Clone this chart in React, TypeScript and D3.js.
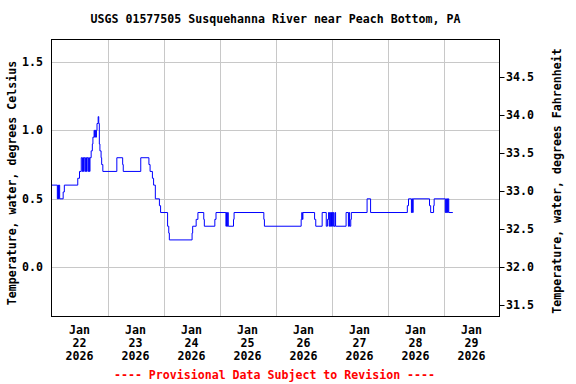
import React from "react";
import * as d3 from "d3";

const TITLE = "USGS 01577505 Susquehanna River near Peach Bottom, PA";
const LEFT_LABEL = "Temperature, water, degrees Celsius";
const RIGHT_LABEL = "Temperature, water, degrees Fahrenheit";
const FOOTER = "---- Provisional Data Subject to Revision ----";

// hours since 2026-01-22 00:00 at which value changes
const stepHours = [
  0, 2.5, 2.75, 3, 3.25, 3.5, 5, 5.5, 11.25, 12, 12.75, 13.25, 13.5, 13.75, 14, 14.5, 14.75, 15, 15.25,
  15.75, 16, 16.25, 16.5, 17, 17.5, 17.75, 18.25, 18.5, 18.75, 19, 19.25, 19.5, 20, 20.25, 20.5, 20.75,
  21.25, 21.5, 22, 28, 30.5, 30.75, 38.25, 41.75, 42.25, 43.25, 43.75, 44.5, 46.25, 46.75, 49.75, 50.25,
  50.5, 60.25, 60.5, 62, 62.75, 65.25, 65.5, 70, 70.5, 74.75, 75, 75.25, 75.5, 75.75, 78, 78.25, 91,
  91.25, 107, 107.25, 107.5, 107.75, 112.75, 113.25, 116, 117.75, 118.25, 118.75, 119, 119.25, 119.5,
  119.75, 120, 120.25, 120.5, 120.75, 121, 121.5, 121.75, 126.25, 127.25, 127.5, 127.75, 128.25, 128.5,
  135.25, 136.75, 152.5, 153, 154.25, 154.5, 154.75, 155, 162, 162.5, 163.75, 164, 168.75, 169, 169.25,
  169.5, 169.75, 170, 170.25, 172,
];
const stepValues = [
  0.6, 0.5, 0.6, 0.5, 0.6, 0.5, 0.55, 0.6, 0.65, 0.7, 0.8, 0.7, 0.8, 0.7, 0.8, 0.7, 0.8, 0.7, 0.8,
  0.7, 0.8, 0.7, 0.8, 0.85, 0.9, 0.95, 1.0, 0.95, 1.0, 0.95, 1.0, 1.05, 1.1, 1.05, 0.9, 0.85,
  0.8, 0.75, 0.7, 0.8, 0.75, 0.7, 0.8, 0.75, 0.7, 0.65, 0.6, 0.5, 0.45, 0.4, 0.3, 0.25,
  0.2, 0.25, 0.3, 0.35, 0.4, 0.35, 0.3, 0.35, 0.4, 0.3, 0.4, 0.3, 0.4, 0.3, 0.35, 0.4, 0.35,
  0.3, 0.35, 0.4, 0.35, 0.4, 0.35, 0.3, 0.4, 0.3, 0.35, 0.4, 0.3, 0.4, 0.3,
  0.4, 0.3, 0.4, 0.3, 0.4, 0.3, 0.4, 0.3, 0.4, 0.3, 0.4, 0.3, 0.35, 0.4,
  0.5, 0.4, 0.45, 0.5, 0.4, 0.5, 0.4, 0.5, 0.45, 0.4, 0.45, 0.5, 0.4, 0.5, 0.4,
  0.5, 0.4, 0.5, 0.4, 0.4,
];

const celsiusTicks = [0.0, 0.5, 1.0, 1.5];
const fahrenheitTicks = [31.5, 32.0, 32.5, 33.0, 33.5, 34.0, 34.5];
const dayLabels = ["22", "23", "24", "25", "26", "27", "28", "29"];
const monthLabel = "Jan";
const yearLabel = "2026";
const yDomainC = [-0.359, 1.663];

const FONT = "'DejaVu Sans Mono', monospace";

export default function App() {
  const W = 576, H = 384;
  const L = 51.5, R = 499.5, T = 39.5, B = 316.5;
  const start = new Date(2026, 0, 22, 0, 0);
  const end = new Date(2026, 0, 30, 0, 0);
  const x = d3.scaleTime().domain([start, end]).range([L, R]);
  const y = d3.scaleLinear().domain(yDomainC).range([B, T]);
  const c2f = (c: number) => c * 9 / 5 + 32;
  const yF = d3.scaleLinear().domain([c2f(yDomainC[0]), c2f(yDomainC[1])]).range([B, T]);

  const data = stepHours.map((h, i) => ({ t: new Date(start.getTime() + h * 3600000), v: stepValues[i] }));
  const line = d3.line<{ t: Date; v: number }>().x(d => x(d.t)).y(d => y(d.v)).curve(d3.curveStepAfter);

  const gridDays = d3.range(1, 8).map(i => new Date(2026, 0, 22 + i));
  const labelDays = dayLabels.map((_, i) => new Date(2026, 0, 22 + i, 12));

  const ts = { fontFamily: FONT, fontWeight: "bold" as const, fontSize: 11.6 };

  return (
    <svg width={W} height={H} style={{ position: "absolute", left: 0, top: 0, background: "#fff" }}>
      <rect x={0} y={0} width={W} height={H} fill="#fff" />
      {celsiusTicks.map(t => (
        <line key={"hg" + t} x1={L} x2={R} y1={Math.round(y(t)) + 0.5} y2={Math.round(y(t)) + 0.5} stroke="#c8c8c8" strokeWidth={1} />
      ))}
      {gridDays.map((d, i) => (
        <line key={"vg" + i} x1={Math.round(x(d)) + 0.5} x2={Math.round(x(d)) + 0.5} y1={T} y2={B} stroke="#c8c8c8" strokeWidth={1} />
      ))}
      <path d={line(data) || ""} fill="none" stroke="#0000ff" strokeWidth={1} />
      <rect x={L} y={T} width={R - L} height={B - T} fill="none" stroke="#000" strokeWidth={1} />
      {fahrenheitTicks.map(t => (
        <line key={"rt" + t} x1={R} x2={R + 5} y1={Math.round(yF(t)) + 0.5} y2={Math.round(yF(t)) + 0.5} stroke="#000" strokeWidth={1} />
      ))}
      <text x={(L + R) / 2} y={23} textAnchor="middle" {...ts}>{TITLE}</text>
      {celsiusTicks.map(t => (
        <text key={"lt" + t} x={43} y={y(t) + 4} textAnchor="end" {...ts}>{t.toFixed(1)}</text>
      ))}
      {fahrenheitTicks.map(t => (
        <text key={"rl" + t} x={506} y={yF(t) + 4} textAnchor="start" {...ts}>{t.toFixed(1)}</text>
      ))}
      {labelDays.map((d, i) => (
        <g key={"bl" + i}>
          <text x={x(d)} y={334} textAnchor="middle" {...ts}>{monthLabel}</text>
          <text x={x(d)} y={347} textAnchor="middle" {...ts}>{dayLabels[i]}</text>
          <text x={x(d)} y={360} textAnchor="middle" {...ts}>{yearLabel}</text>
        </g>
      ))}
      <text transform={`translate(16,${(T + B) / 2 + 5}) rotate(-90)`} textAnchor="middle" {...ts}>{LEFT_LABEL}</text>
      <text transform={`translate(561,${(T + B) / 2 + 3}) rotate(-90)`} textAnchor="middle" {...ts}>{RIGHT_LABEL}</text>
      <text x={(L + R) / 2 - 1} y={379} textAnchor="middle" {...ts} fill="#ff0000">{FOOTER}</text>
    </svg>
  );
}
